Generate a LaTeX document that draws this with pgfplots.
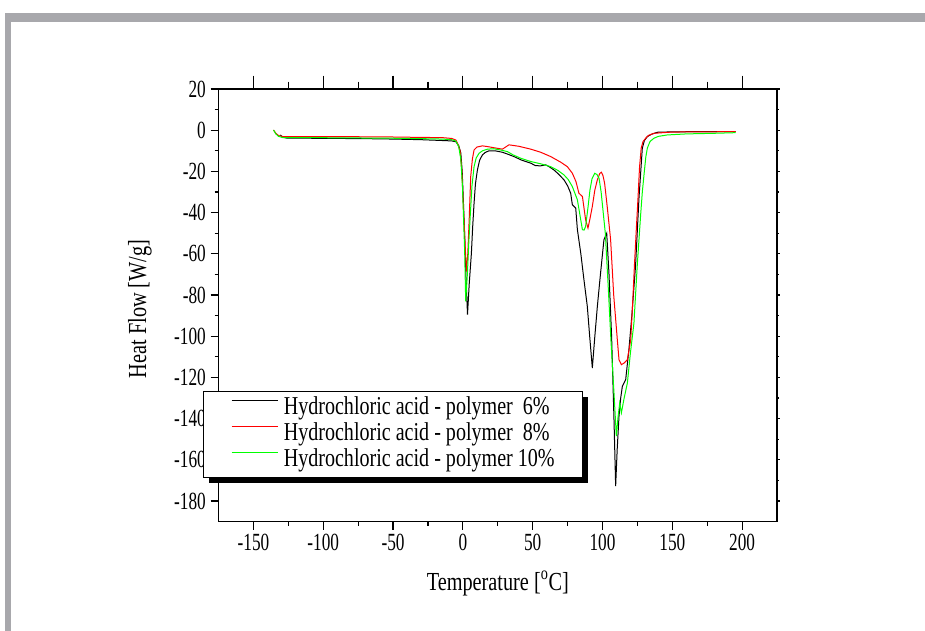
\documentclass[border=0pt]{standalone}
\usepackage{fontspec}
\setmainfont{Liberation Serif}[FakeStretch=0.78]
\newfontfamily\tickfont{Liberation Serif}[FakeStretch=0.7]
\usepackage{pgfplots}
\pgfplotsset{compat=1.18}
\definecolor{framegray}{RGB}{168,168,172}
\definecolor{cred}{RGB}{255,0,0}
\definecolor{cgreen}{RGB}{0,255,0}
\begin{document}
\begin{tikzpicture}
\useasboundingbox (0,0) rectangle (693.75pt,473.25pt);
\fill[framegray] (3.75pt,0pt) rectangle (8.25pt,463.5pt);
\fill[framegray] (3.75pt,456.75pt) rectangle (693.75pt,463.5pt);
% top ticks
\begin{axis}[at={(163.9pt,82.0pt)}, anchor=south west, scale only axis,
  width=418.9pt, height=324.5pt, xmin=-175, xmax=225, ymin=-190, ymax=20,
  xtick={-150,-100,...,200}, minor x tick num=1, ytick=\empty,
  xtick pos=right, tick align=outside, xticklabels={},
  major tick length=10pt, minor tick length=5.5pt,
  axis line style={line width=1.2pt}, every tick/.style={black,line width=0.9pt}]
\end{axis}
% right ticks
\begin{axis}[at={(163.9pt,82.0pt)}, anchor=south west, scale only axis,
  width=418.9pt, height=324.5pt, xmin=-175, xmax=225, ymin=-190, ymax=20,
  ytick={-180,-160,...,20}, minor y tick num=1, xtick=\empty,
  ytick pos=right, tick align=outside, yticklabels={},
  major tick length=2pt, minor tick length=1.2pt,
  axis line style={line width=1.2pt}, every tick/.style={black,line width=0.9pt}]
\end{axis}
% legend shadow
\fill[black] (156.4pt,110.7pt) rectangle (441pt,175.5pt);
\begin{axis}[at={(163.9pt,82.0pt)}, anchor=south west, scale only axis,
  width=418.9pt, height=324.5pt, xmin=-175, xmax=225, ymin=-190, ymax=20,
  xtick={-150,-100,...,200}, minor x tick num=1,
  ytick={-180,-160,...,20}, minor y tick num=1,
  xtick pos=left, ytick pos=left, tick align=outside,
  major tick length=6pt, minor tick length=3pt,
  axis line style={line width=1.2pt}, every tick/.style={black,line width=0.9pt},
  /pgf/number format/assume math mode=true,
  tick label style={font=\tickfont\fontsize{18.5}{21}\selectfont},
  label style={font=\fontsize{19.5}{22}\selectfont},
  xlabel={Temperature [\textsuperscript{o}C]},
  ylabel={Heat Flow [W/g]},
  x label style={at={(axis description cs:0.5,-0.158)}, anchor=base, inner sep=0pt},
  y label style={at={(axis description cs:-0.1406,0.4916)}, anchor=center, inner sep=0pt},
  legend style={at={(axis description cs:-0.0283,0.3025)}, anchor=north west,
    draw=black, line width=0.6pt, fill=white,
    font=\fontsize{19.3}{22}\selectfont,
    nodes={inner sep=0pt, text height=13.5pt, text depth=4.5pt},
    inner xsep=21pt, inner ysep=3.7pt, row sep=1.5pt, column sep=3.75pt},
  legend cell align=left,
  legend image code/.code={\path (0pt,0pt); \draw[#1] (0pt,5.5pt) -- (35pt,5.5pt);},
  every axis plot/.append style={line width=0.75pt}]
\addplot[black] coordinates {
(-130.9,-2.3) (-128.5,-3.5) (-125.6,-3.9) (-110,-3.9) (-90,-4.0) (-70,-4.1)
(-50,-4.3) (-30,-4.6) (-15,-5.0) (-8,-5.2) (-5,-5.6) (-3,-7.5) (-1.5,-11)
(-0.5,-20) (0.4,-35.3) (1.2,-50) (2,-67.7) (3.3,-89.5) (4.5,-75) (6.1,-59.6)
(7,-47) (8,-35.4) (9,-26) (10.4,-19.3) (12,-14.5) (14,-12) (16,-10.8)
(18.7,-10.0) (23,-10.0) (28.3,-10.7) (32,-11.6) (36.6,-12.8) (42,-14.5)
(48.6,-16) (52,-17.2) (55.7,-17.3) (59.3,-16.8) (62,-17.8) (65.2,-19.3)
(68.5,-21.3) (72.4,-24.1) (75,-27) (77.2,-30.6) (78.4,-36.2) (80.8,-37.8)
(82,-48.3) (84.4,-59.6) (86.7,-72.6) (89.1,-85.5) (91,-101.7) (92.7,-115.4)
(94.5,-100) (96.3,-85.5) (98.5,-70) (101,-53.2) (103,-50) (104.6,-69.3)
(106.5,-100) (108.2,-140) (109.4,-172.8) (110.5,-155) (111.8,-138.8)
(113,-130) (114.2,-124.3) (116.6,-121) (118.9,-106.5) (121,-90) (123.7,-65.3)
(126.1,-33) (128.5,-8.7) (130,-5) (132.1,-3.1) (135,-2) (139.3,-1.0)
(150,-0.8) (170,-0.7) (195.3,-0.7)};
\addlegendentry{Hydrochloric acid - polymer\ \ 6\%}
\addplot[cred] coordinates {
(-135.6,0.1) (-134,-1.5) (-132,-2.6) (-129,-3.1) (-110,-3.1) (-90,-3.1)
(-70,-3.2) (-50,-3.3) (-30,-3.5) (-15,-3.6) (-8,-4.0) (-5,-4.8) (-3.9,-6.3)
(-2,-10) (-0.8,-19.3) (0.8,-43.5) (2.5,-68.6) (3.5,-60) (4.5,-43.5)
(5.6,-22.5) (6.8,-14) (8,-9.6) (10,-8.2) (14,-7.6) (18,-8.0) (23,-8.6)
(28.3,-9.2) (31,-8.0) (33,-7.1) (40,-7.8) (48.6,-9.2) (55.7,-10.7)
(62.9,-12.8) (70,-15.5) (74.8,-17.7) (78.4,-20.9) (81,-25) (83.1,-30.6)
(85.6,-32.2) (87.9,-43.5) (89.6,-47.5) (91,-43) (92.7,-37) (94.5,-29)
(96.3,-24.1) (98,-21) (99.2,-20.4) (100.3,-22) (101.5,-25.7) (103.5,-38)
(105.8,-53.2) (108,-80) (110.6,-101.7) (111.8,-111.4) (113.5,-113.8)
(115.5,-113) (117.8,-111.4) (120.2,-101.7) (121.5,-85) (122.9,-65)
(124.2,-48) (125.4,-33) (126.5,-18) (127.7,-8.7) (129,-5.5) (130.9,-3.9)
(133,-2.5) (136.8,-1.5) (150,-0.9) (170,-0.8) (195.3,-0.7)};
\addlegendentry{Hydrochloric acid - polymer\ \ 8\%}
\addplot[cgreen] coordinates {
(-135.6,0.1) (-134,-1.8) (-132,-3.0) (-129,-3.6) (-110,-3.6) (-90,-3.7)
(-70,-3.8) (-50,-3.9) (-30,-4.1) (-15,-4.3) (-8,-4.6) (-5,-5.3) (-3,-8)
(-1.5,-14) (-0.3,-27.4) (1.3,-59.5) (2.0,-83.1) (3.2,-70) (4.2,-55)
(5.1,-43.5) (6.5,-27) (8,-17.7) (9.5,-13.5) (11.6,-11.2) (14,-10)
(17.6,-9.2) (22,-9.0) (27,-9.6) (31.9,-10.4) (36,-12) (41.4,-13.6)
(48.6,-15.2) (55.7,-16.3) (62.9,-17.7) (68,-19.5) (72.4,-21.7) (75.5,-24)
(78.4,-27.4) (82,-33.8) (84.4,-43.5) (85.6,-48.3) (86.8,-48.5) (87.9,-46.7)
(89.5,-38) (91,-29) (92.5,-23.5) (94.4,-20.9) (96,-21.5) (97.5,-23.3)
(99,-30) (100.5,-40) (102,-50) (104,-75) (106,-101.7) (108,-125)
(109.9,-148.5) (111,-140) (112.3,-132.4) (113.5,-137.2) (115.5,-130)
(117.8,-122.7) (120,-108) (122.5,-93.6) (124.9,-65.3) (127.3,-41.1)
(128.5,-30) (129.7,-21.7) (131,-13) (132.1,-8.7) (134,-5.5) (136.8,-3.9)
(140,-3.0) (146.4,-2.3) (160,-1.8) (180,-1.5) (195.3,-1.2)};
\addlegendentry{Hydrochloric acid - polymer 10\%}
\end{axis}
\end{tikzpicture}
\end{document}
